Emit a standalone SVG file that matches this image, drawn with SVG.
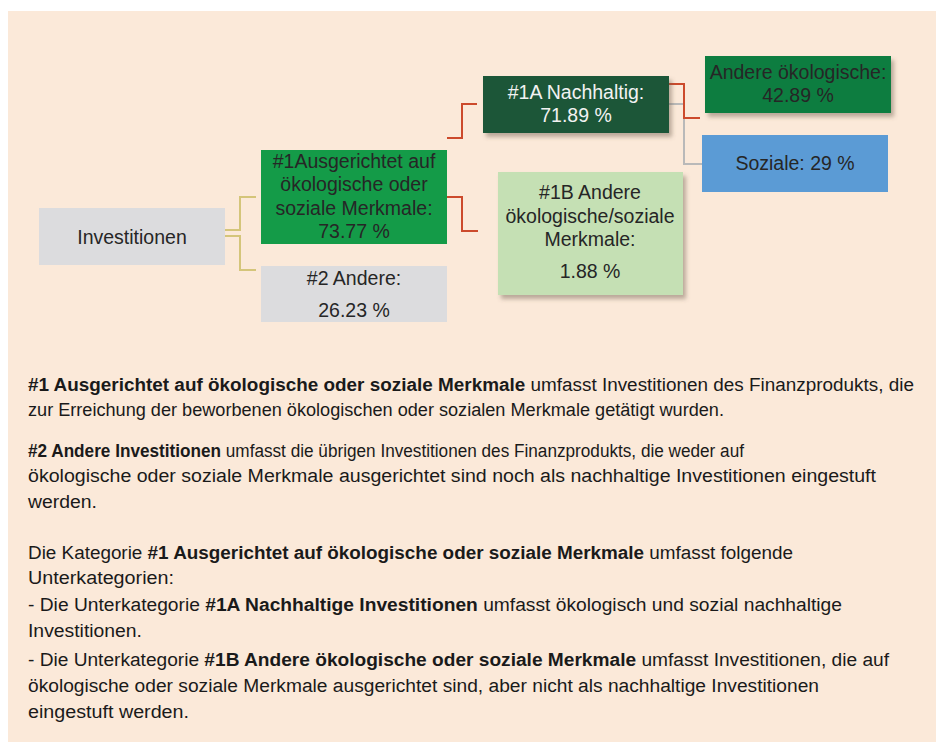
<svg xmlns="http://www.w3.org/2000/svg" width="936" height="742" viewBox="0 0 936 742">
<defs>
<filter id="sh" x="-10%" y="-10%" width="130%" height="140%">
<feDropShadow dx="3" dy="4" stdDeviation="2" flood-color="#6b5a4a" flood-opacity="0.45"/>
</filter>
<style>
.nt{font-family:"Liberation Sans",Arial,sans-serif;font-size:19.5px;fill:#262626;text-anchor:middle}
.wt{fill:#f2f2f2}
.p{font-family:"Liberation Sans",Arial,sans-serif;font-size:18px;fill:#1a1a1a}
.b{font-weight:bold}
.cy{fill:none;stroke:#d4c57a;stroke-width:2}
.cr{fill:none;stroke:#cc4a2c;stroke-width:2}
.cg{fill:none;stroke:#b9b9b9;stroke-width:2}
</style>
</defs>
<rect x="8" y="11" width="928" height="731" fill="#fbe9d9"/>
<g id="connectors">
<polyline class="cy" points="225,230 240,230 240,197 256,197"/>
<polyline class="cy" points="225,236 240,236 240,270 256,270"/>
<polyline class="cr" points="447,138 462,138 462,104 477,104"/>
<polyline class="cr" points="447,197 462,197 462,231 478,231"/>
<polyline class="cg" points="669,104 684,104 684,164 702,164"/>
<polyline class="cr" points="669,84 684,84 684,118 700,118"/>
</g>
<g id="n-investitionen">
<rect x="39" y="208" width="186" height="57" fill="#dcdcde"/>
<text class="nt" x="132" y="244">Investitionen</text>
</g>
<g id="n-1">
<rect x="261" y="150" width="186" height="94" fill="#149b48"/>
<text class="nt" x="354" y="168">#1Ausgerichtet auf</text>
<text class="nt" x="354" y="191">ökologische oder</text>
<text class="nt" x="354" y="214.5">soziale Merkmale:</text>
<text class="nt" x="354" y="238">73.77 %</text>
</g>
<g id="n-2">
<rect x="261" y="266" width="186" height="56" fill="#dcdcde"/>
<text class="nt" x="354" y="285">#2 Andere:</text>
<text class="nt" x="354" y="317">26.23 %</text>
</g>
<g id="n-1a">
<rect x="483" y="76" width="186" height="57" fill="#1f5637" filter="url(#sh)"/>
<text class="nt wt" x="576" y="99">#1A Nachhaltig:</text>
<text class="nt wt" x="576" y="122">71.89 %</text>
</g>
<g id="n-andere-oek">
<rect x="705" y="56" width="186" height="57" fill="#0e7d3f" filter="url(#sh)"/>
<text class="nt" x="798" y="79">Andere ökologische:</text>
<text class="nt" x="798" y="102">42.89 %</text>
</g>
<g id="n-soziale">
<rect x="702" y="135" width="186" height="57" fill="#5b9bd5"/>
<text class="nt" x="795" y="170">Soziale: 29 %</text>
</g>
<g id="n-1b">
<rect x="498" y="172" width="185" height="123" fill="#c5e0b4" filter="url(#sh)"/>
<text class="nt" x="590" y="199">#1B Andere</text>
<text class="nt" x="590" y="223">ökologische/soziale</text>
<text class="nt" x="590" y="246">Merkmale:</text>
<text class="nt" x="590" y="278">1.88 %</text>
</g>
<g id="legend">
<text class="p" x="28" y="391" textLength="886" lengthAdjust="spacingAndGlyphs"><tspan class="b">#1 Ausgerichtet auf ökologische oder soziale Merkmale</tspan> umfasst Investitionen des Finanzprodukts, die</text>
<text class="p" x="28" y="416" textLength="696" lengthAdjust="spacingAndGlyphs">zur Erreichung der beworbenen ökologischen oder sozialen Merkmale getätigt wurden.</text>
<text class="p" x="28" y="457" textLength="716" lengthAdjust="spacingAndGlyphs"><tspan class="b">#2 Andere Investitionen</tspan> umfasst die übrigen Investitionen des Finanzprodukts, die weder auf</text>
<text class="p" x="28" y="482" textLength="848" lengthAdjust="spacingAndGlyphs">ökologische oder soziale Merkmale ausgerichtet sind noch als nachhaltige Investitionen eingestuft</text>
<text class="p" x="28" y="508" textLength="69" lengthAdjust="spacingAndGlyphs">werden.</text>
<text class="p" x="28" y="559" textLength="765" lengthAdjust="spacingAndGlyphs">Die Kategorie <tspan class="b">#1 Ausgerichtet auf ökologische oder soziale Merkmale</tspan> umfasst folgende</text>
<text class="p" x="28" y="584" textLength="146" lengthAdjust="spacingAndGlyphs">Unterkategorien:</text>
<text class="p" x="28" y="611" textLength="814" lengthAdjust="spacingAndGlyphs">- Die Unterkategorie <tspan class="b">#1A Nachhaltige Investitionen</tspan> umfasst ökologisch und sozial nachhaltige</text>
<text class="p" x="28" y="637" textLength="114" lengthAdjust="spacingAndGlyphs">Investitionen.</text>
<text class="p" x="28" y="666" textLength="861" lengthAdjust="spacingAndGlyphs">- Die Unterkategorie <tspan class="b">#1B Andere ökologische oder soziale Merkmale</tspan> umfasst Investitionen, die auf</text>
<text class="p" x="28" y="692" textLength="791" lengthAdjust="spacingAndGlyphs">ökologische oder soziale Merkmale ausgerichtet sind, aber nicht als nachhaltige Investitionen</text>
<text class="p" x="28" y="718" textLength="161" lengthAdjust="spacingAndGlyphs">eingestuft werden.</text>
</g>
</svg>
